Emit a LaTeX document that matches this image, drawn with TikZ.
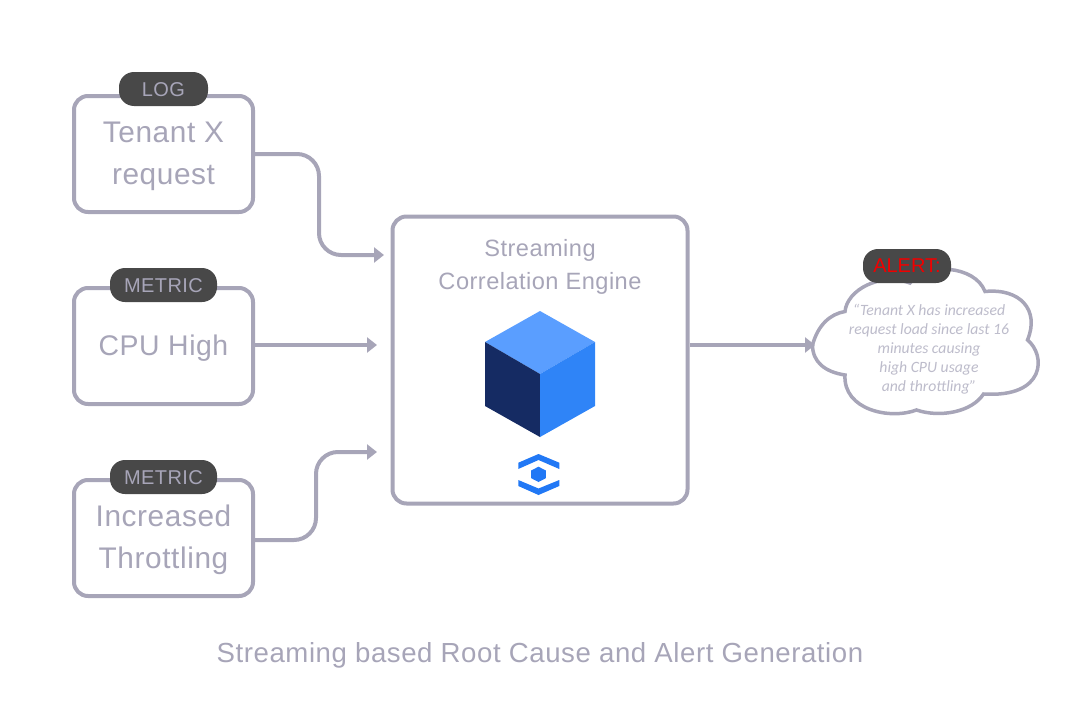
\documentclass[tikz,border=0pt]{standalone}
\usepackage{fontspec}
\usepackage{xcolor}
\usetikzlibrary{arrows.meta,positioning}
\setmainfont{Liberation Sans}[LetterSpace=2.0]
\newfontfamily\quotefont{Carlito}
\newfontfamily\alertfont{Liberation Sans}
\definecolor{slate}{HTML}{A7A5B8}
\definecolor{palequote}{HTML}{BDBCCB}
\definecolor{tagdark}{HTML}{484848}
\definecolor{alertred}{HTML}{F00000}
\definecolor{cubetop}{HTML}{5A9EFF}
\definecolor{cubeleft}{HTML}{152B63}
\definecolor{cuberight}{HTML}{2F84F7}
\definecolor{iconblue}{HTML}{2178F5}
\tikzset{
  srcbox/.style={draw=slate,line width=4pt,rounded corners=14pt,fill=white,minimum width=179pt,minimum height=116pt,inner sep=0pt},
  srctxt/.style={text=slate,align=center,font=\fontsize{29.8}{42}\selectfont},
  tagpill/.style={fill=tagdark,rounded corners=15pt,minimum height=34pt,inner sep=0pt},
  tagtxt/.style={text=slate,font=\fontsize{20}{24}\selectfont},
  flow/.style={draw=slate,line width=4pt,rounded corners=22pt,-{Triangle[length=10pt,width=15pt]}},
  enginetxt/.style={text=slate,font=\fontsize{23.6}{28}\selectfont},
  quotetxt/.style={text=palequote,align=center,font=\quotefont\itshape\fontsize{15.7}{19}\selectfont}
}
\begin{document}
\begin{tikzpicture}[x=1pt,y=-1pt]
  \useasboundingbox (0,0) rectangle (1080,720);
  % source boxes
  \node[srcbox] (tenant) at (163.5,154) {};
  \node[srcbox] (cpu) at (163.5,346) {};
  \node[srcbox] (throttle) at (163.5,538) {};
  \node[srctxt] (tenanttxt) at (163.5,156) {Tenant X\\request};
  \node[srctxt,font=\fontsize{28.4}{42}\selectfont] (cputxt) at (163.5,348) {CPU High};
  \node[srctxt] (throttletxt) at (163.5,540) {Increased\\Throttling};
  \node[tagpill,minimum width=89pt] (logtag) at (163.5,89) {};
  \node[tagpill,minimum width=107pt] (cputag) at (163.5,285) {};
  \node[tagpill,minimum width=107pt] (throttletag) at (163.5,477) {};
  \node[tagtxt,yshift=-1pt] at (logtag.center) {LOG};
  \node[tagtxt,yshift=-1pt] at (cputag.center) {METRIC};
  \node[tagtxt,yshift=-1pt] at (throttletag.center) {METRIC};
  % engine
  \node[draw=slate,line width=4pt,rounded corners=14pt,minimum width=295pt,minimum height=287pt,inner sep=0pt] (engine) at (540,360) {};
  \node[enginetxt] (streamtxt) at (540,250) {Streaming};
  \node[enginetxt] (corrtxt) at (540,283) {Correlation Engine};
  \fill[cubetop] (540,311) -- (595,342) -- (540,374) -- (485,342) -- cycle;
  \fill[cubeleft] (485,342) -- (540,374) -- (540,437) -- (485,406) -- cycle;
  \fill[cuberight] (595,342) -- (540,374) -- (540,437) -- (595,406) -- cycle;
  \fill[iconblue] (518.3,462.7) -- (538.5,454) -- (559.3,462.7) -- (559.3,469) -- (538.5,460) -- (518.3,469) -- cycle;
  \fill[iconblue] (518.3,480) -- (538.5,488.5) -- (559.3,480) -- (559.3,486) -- (538.5,495) -- (518.3,486) -- cycle;
  \fill[iconblue] (538.5,466.7) -- (545.8,470.5) -- (545.8,478.2) -- (538.5,482) -- (531.2,478.2) -- (531.2,470.5) -- cycle;
  % cloud
  \draw[slate,line width=3.5pt,fill=white] (812.5,345) .. controls (818,325) and (830,314) .. (845,311.5)
    .. controls (847,290) and (880,272) .. (910,283)
    .. controls (925,262) and (975,265) .. (985,291.5)
    .. controls (1020,288) and (1040,310) .. (1027.5,340)
    .. controls (1046,355) and (1046,398) .. (983.5,394)
    .. controls (972,412) and (940,418) .. (916.5,410)
    .. controls (890,420) and (843,410) .. (845,375)
    .. controls (825,372) and (812.5,362) .. cycle;
  \node[quotetxt] (quote) at (929,349.5) {“Tenant X has increased\\request load since last 16\\minutes causing\\high CPU usage\\and throttling”};
  \node[tagpill,minimum width=88pt] (alerttag) at (907,266) {};
  \node[text=alertred,font=\alertfont\fontsize{20}{24}\selectfont] at (alerttag.center) {ALERT:};
  % connectors
  \coordinate (login) at (384,255);
  \coordinate (cpuin) at (377,345);
  \coordinate (throttlein) at (377,452);
  \coordinate (cloudin) at (815,345);
  \draw[flow] (tenant.east) -| (319,255) -- (login);
  \draw[flow] (cpu.east |- cpuin) -- (cpuin);
  \draw[flow] ([yshift=-2pt]throttle.east) -| (316,452) -- (throttlein);
  \draw[flow] (engine.east |- cloudin) -- (cloudin);
  \node[text=slate,font=\fontsize{27.6}{30}\selectfont] (caption) at (540,655) {Streaming based Root Cause and Alert Generation};
\end{tikzpicture}
\end{document}
